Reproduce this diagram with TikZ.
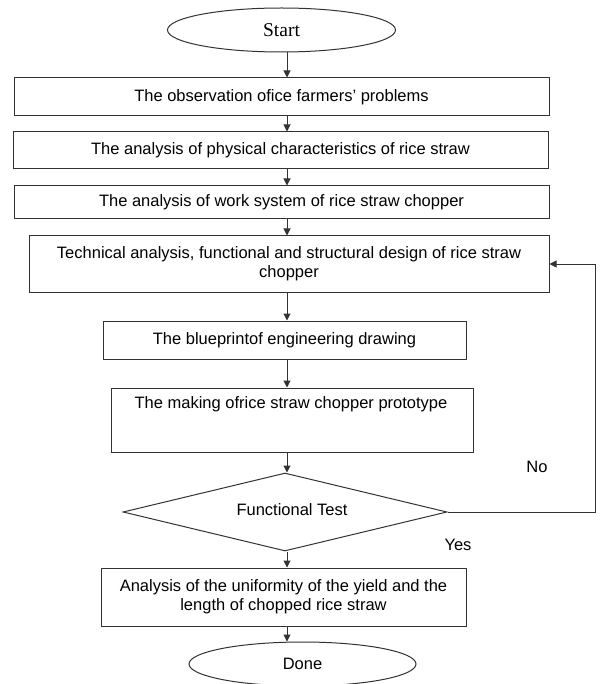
\documentclass[tikz,border=0pt]{standalone}
\usepackage{fontspec}
\setmainfont{Liberation Sans}
\newfontfamily\serifstart{Liberation Serif}
\usetikzlibrary{arrows.meta,shapes.geometric}
\tikzset{
  ln/.style={draw=black!80, line width=1pt},
  arr/.style={ln, -{Triangle[length=7pt,width=7pt]}},
  box/.style={ln, rectangle, inner sep=0pt, align=center, font=\fontsize{16.5}{19}\selectfont},
  oval/.style={ln, ellipse, inner sep=0pt, minimum width=228pt, minimum height=44pt, font=\fontsize{16.5}{19}\selectfont},
  decision/.style={ln, diamond, inner sep=0pt, minimum width=324pt, minimum height=78pt, font=\fontsize{16.5}{19}\selectfont},
  lbl/.style={font=\fontsize{16.5}{19}\selectfont, inner sep=0pt},
  txt/.style={font=\fontsize{16.5}{19}\selectfont, inner sep=0pt, align=center}
}
\begin{document}
\begin{tikzpicture}[x=1pt, y=-1pt]
\useasboundingbox (0,0) rectangle (599,684);
\coordinate (X) at (287,0);
\node[oval, font=\serifstart\fontsize{19.5}{22}\selectfont] (start) at (281.5,30) {Start};
\node[box, minimum width=535pt, minimum height=38pt] (b1) at (281.5,97) {The observation ofice farmers' problems};
\node[box, minimum width=535pt, minimum height=37pt] (b2) at (280.5,150.5) {The analysis of physical characteristics of rice straw};
\node[box, minimum width=535pt, minimum height=33pt] (b3) at (281.5,202.5) {The analysis of work system of rice straw chopper};
\node[box, minimum width=520pt, minimum height=56pt] (b4) at (289,264) {Technical analysis, functional and structural design of rice straw\\chopper};
\node[box, minimum width=363pt, minimum height=38pt] (b5) at (284.5,340) {The blueprintof engineering drawing};
\node[box, minimum width=362pt, minimum height=64pt] (b6) at (292,420) {};
\node[txt] (t6) at (291,404) {The making ofrice straw chopper prototype};
\node[decision] (d) at (285,512) {};
\node[txt] (td) at (292,510) {Functional Test};
\node[box, minimum width=365pt, minimum height=58pt] (b7) at (283.5,597) {Analysis of the uniformity of the yield and the\\length of chopped rice straw};
\node[oval, minimum width=227pt] (done) at (302.5,664) {Done};
\node[lbl] (no) at (537,467) {No};
\node[lbl] (yes) at (458,545) {Yes};
\coordinate (c1) at (595,512);
\coordinate (c2) at (595,264);
\draw[arr] (start.south -| X) -- (b1.north -| X);
\draw[arr] (b1.south -| X) -- (b2.north -| X);
\draw[arr] (b2.south -| X) -- (b3.north -| X);
\draw[arr] (b3.south -| X) -- (b4.north -| X);
\draw[arr] (b4.south -| X) -- (b5.north -| X);
\draw[arr] (b5.south -| X) -- (b6.north -| X);
\draw[arr] (b6.south -| X) -- (d.north -| X);
\draw[arr] (d.south -| X) -- (b7.north -| X);
\draw[arr] (b7.south -| X) -- (done.north -| X);
\draw[arr] (d.east) -- (c1) -- (c2) -- (b4.east);
\end{tikzpicture}
\end{document}
